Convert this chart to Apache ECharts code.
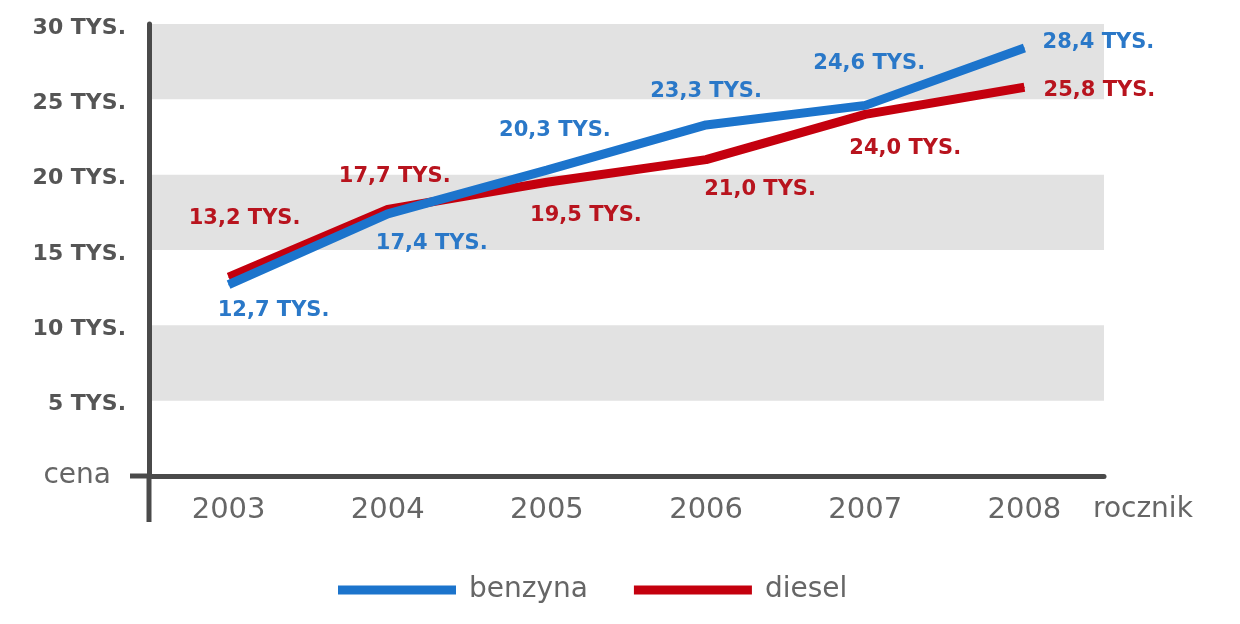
<!DOCTYPE html>
<html>
<head>
<meta charset="utf-8">
<script src="https://cdn.jsdelivr.net/npm/echarts@6/dist/echarts.min.js"></script>
<style>
  html, body { margin: 0; padding: 0; background: #fff; }
  #main { width: 1240px; height: 624px; }
</style>
</head>
<body>
<div id="main"></div>
<script>
var years = ['2003', '2004', '2005', '2006', '2007', '2008'];
var benzyna = [12.7, 17.4, 20.3, 23.3, 24.6, 28.4];
var diesel = [13.2, 17.7, 19.5, 21.0, 24.0, 25.8];

// przesuniecia etykiet wzgledem punktu
var benzynaOffsets = [[45, 26], [44, 30], [8, -40], [0, -33], [4, -42], [74, -6]];
var dieselOffsets = [[16, -59], [7, -33], [39, 33], [54, 30], [40, 34], [75, 3]];

var FONT = 'DejaVu Sans';
var gridLeft = 149, gridTop = 24, gridRight = 136, gridBottom = 148;
var axisColor = '#4a4a4a';

function fmt(v) {
  return v.toFixed(1).replace('.', ',') + ' TYS.';
}

function buildData(values, offsets, color) {
  return values.map(function(v, i) {
    return {
      value: v,
      label: {
        show: true,
        position: 'inside',
        offset: offsets[i],
        color: color,
        fontFamily: FONT,
        fontWeight: 'bold',
        fontSize: 21,
        formatter: function(p) { return fmt(p.value); }
      }
    };
  });
}

var myChart = echarts.init(document.getElementById('main'));

var option = {
  animation: false,
  backgroundColor: '#fff',
  grid: { left: gridLeft, top: gridTop, right: gridRight, bottom: gridBottom },
  legend: {
    left: 333,
    top: 571,
    icon: 'rect',
    itemWidth: 118,
    itemHeight: 9,
    itemGap: 46,
    textStyle: { fontFamily: FONT, fontSize: 28, color: '#666', padding: [0, 0, 0, 8] },
    data: ['benzyna', 'diesel']
  },
  xAxis: {
    type: 'category',
    data: years,
    boundaryGap: true,
    name: 'rocznik',
    nameLocation: 'end',
    nameGap: -11,
    nameTextStyle: {
      fontFamily: FONT, fontSize: 28, color: '#666',
      verticalAlign: 'top', padding: [20, 0, 0, 0]
    },
    axisLine: { show: true, lineStyle: { color: axisColor, width: 5 } },
    axisTick: { show: false },
    axisLabel: { fontFamily: FONT, fontSize: 29, color: '#666', margin: 20 },
    splitLine: { show: false }
  },
  yAxis: {
    type: 'value',
    min: 0,
    max: 30,
    interval: 5,
    axisLine: { show: true, lineStyle: { color: axisColor, width: 5 } },
    axisTick: { show: false },
    splitLine: { show: false },
    splitArea: { show: true, areaStyle: { color: ['rgba(0,0,0,0)', '#e2e2e2'] } },
    axisLabel: {
      margin: 23,
      fontFamily: FONT,
      fontWeight: 'bold',
      fontSize: 22,
      color: '#555',
      formatter: function(v) {
        if (v === 0) return '{c|cena}';
        return '{t|' + v + ' TYS.}';
      },
      rich: {
        t: { fontFamily: FONT, fontSize: 22, fontWeight: 'bold', color: '#555', padding: [8, 0, 0, 0] },
        c: { fontFamily: FONT, fontSize: 28, fontWeight: 'normal', color: '#666', padding: [0, 15, 0, 0] }
      }
    }
  },
  series: [
    {
      name: 'benzyna',
      type: 'line',
      data: buildData(benzyna, benzynaOffsets, '#2a78c8'),
      symbol: 'circle',
      symbolSize: 1,
      lineStyle: { color: '#1c74cc', width: 9 },
      itemStyle: { color: '#1c74cc' },
      z: 3
    },
    {
      name: 'diesel',
      type: 'line',
      data: buildData(diesel, dieselOffsets, '#b8141e'),
      symbol: 'circle',
      symbolSize: 1,
      lineStyle: { color: '#c4000e', width: 9 },
      itemStyle: { color: '#c4000e' },
      z: 2
    }
  ]
};

myChart.setOption(option);

// przedluzenia osi poza obszar wykresu
var zeroY = myChart.convertToPixel({ yAxisIndex: 0 }, 0);
myChart.setOption({
  graphic: [
    {
      type: 'line',
      shape: { x1: gridLeft, y1: zeroY, x2: gridLeft, y2: zeroY + 46 },
      style: { stroke: axisColor, lineWidth: 5 }
    },
    {
      type: 'line',
      shape: { x1: gridLeft - 19, y1: zeroY, x2: gridLeft, y2: zeroY },
      style: { stroke: axisColor, lineWidth: 5 }
    }
  ]
});
</script>
</body>
</html>
